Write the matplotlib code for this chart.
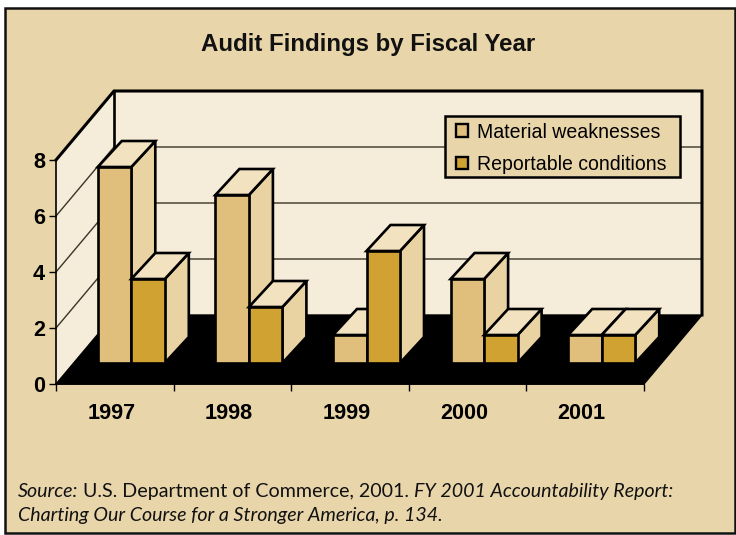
import matplotlib
matplotlib.use("Agg")
from matplotlib import pyplot as plt
from matplotlib.patches import Patch, Polygon, Rectangle

years = ["1997", "1998", "1999", "2000", "2001"]
material = [7, 6, 1, 3, 1]
reportable = [3, 2, 4, 1, 1]
y_ticks = [0, 2, 4, 6, 8]

BG = "#E9D5AA"
WALL = "#F5ECD9"
MAT = "#E0BE7B"
REP = "#CFA232"
TOP = "#F2E2C0"
SIDE = "#E9D3A3"

# one x unit is 117.6 px, one y unit is 28 px
XU, YU = 117.6, 28.0
WALL_DX, WALL_DY = 58 / XU, 69 / YU    # depth of the floor
BAR_DX, BAR_DY = 24 / XU, 26 / YU      # depth of a bar
IN_DX, IN_DY = 16.5 / XU, 21 / YU      # bars sit inside the floor
BAR_W = 33.5 / XU

fig = plt.figure(figsize=(7.36, 5.35), dpi=100, facecolor="white")
W, H = 736.0, 535.0
fig.add_artist(Rectangle((5 / W, 1 - 533 / H), 729.5 / W, 525 / H, transform=fig.transFigure,
                         facecolor=BG, edgecolor="#111111", linewidth=1.8, zorder=-1))

ax = fig.add_axes([56 / W, 1 - 384 / H, 588 / W, 224 / H])
ax.set_xlim(0, 5)
ax.set_ylim(0, 8)
ax.patch.set_visible(False)
for s in ["top", "right"]:
    ax.spines[s].set_visible(False)
ax.spines["left"].set_linewidth(1.2)
ax.spines["bottom"].set_linewidth(1.2)
ax.spines["left"].set_zorder(6)
ax.spines["bottom"].set_zorder(6)


def poly(pts, fc, ec="black", lw=1.9, z=3):
    ax.add_patch(Polygon(pts, closed=True, facecolor=fc, edgecolor=ec, linewidth=lw,
                         joinstyle="miter", clip_on=False, zorder=z))


# walls and floor
poly([(0, 0), (WALL_DX, WALL_DY), (WALL_DX, 8 + WALL_DY), (0, 8)], WALL, ec="none", z=1)
poly([(WALL_DX, WALL_DY), (5 + WALL_DX, WALL_DY), (5 + WALL_DX, 8 + WALL_DY), (WALL_DX, 8 + WALL_DY)],
     WALL, ec="none", z=1)
poly([(0, 0), (5, 0), (5 + WALL_DX, WALL_DY), (WALL_DX, WALL_DY)], "black", ec="black", lw=1, z=2)

# gridlines run along the left wall and across the back
for v in y_ticks[1:-1]:
    ax.plot([0, WALL_DX, 5 + WALL_DX], [v, v + WALL_DY, v + WALL_DY], color="#3a3528", lw=1.0,
            clip_on=False, zorder=1.5)

# wall outline
ax.plot([0, WALL_DX, 5 + WALL_DX, 5 + WALL_DX], [8, 8 + WALL_DY, 8 + WALL_DY, WALL_DY],
        color="black", lw=2.2, clip_on=False, zorder=2.5, solid_joinstyle="miter")
ax.plot([WALL_DX, WALL_DX], [WALL_DY, 8 + WALL_DY], color="black", lw=1.9, clip_on=False, zorder=2.5)


def bar3d(x0, h, front, z):
    x = x0 + IN_DX
    b = IN_DY
    t = b + h
    poly([(x + BAR_W, b), (x + BAR_W + BAR_DX, b + BAR_DY), (x + BAR_W + BAR_DX, t + BAR_DY), (x + BAR_W, t)],
         SIDE, z=z)
    poly([(x, t), (x + BAR_DX, t + BAR_DY), (x + BAR_W + BAR_DX, t + BAR_DY), (x + BAR_W, t)], TOP, z=z)
    poly([(x, b), (x + BAR_W, b), (x + BAR_W, t), (x, t)], front, z=z)


for i in range(len(years)):
    c = i + 0.5
    bar3d(c - BAR_W, material[i], MAT, 3 + i * 0.1)
    bar3d(c, reportable[i], REP, 3.05 + i * 0.1)

ax.set_yticks(y_ticks)
ax.set_xticks(range(len(years) + 1))
ax.set_xticklabels([])
ax.set_xticks([i + 0.47 for i in range(len(years))], labels=years, minor=True)
ax.tick_params(axis="x", which="major", length=5, width=1.0)
ax.tick_params(axis="x", which="minor", length=0, pad=14)
ax.tick_params(axis="y", length=5, width=1.0, pad=3)
for t in ax.get_xticklabels(minor=True) + ax.get_yticklabels():
    t.set_fontfamily("Liberation Sans")
    t.set_fontweight("bold")
    t.set_fontsize(15.6)

fig.text(368 / W, 1 - 44 / H, "Audit Findings by Fiscal Year", family="Liberation Sans", weight="bold",
         fontsize=17.3, ha="center", va="center", color="#111111")

# legend box is a separate rectangle so its padding can be set exactly
fig.add_artist(Rectangle((445 / W, 1 - 177 / H), 235 / W, 61 / H, transform=fig.transFigure,
                         facecolor=BG, edgecolor="black", linewidth=1.8, zorder=9))
handles = [Patch(facecolor=MAT, edgecolor="black", linewidth=1.7, label="Material weaknesses"),
           Patch(facecolor=REP, edgecolor="black", linewidth=1.7, label="Reportable conditions")]
leg = fig.legend(handles=handles, loc="upper left", bbox_to_anchor=(456 / W, 1 - 122.5 / H),
                 borderaxespad=0, frameon=False, prop={"family": "Liberation Sans", "size": 14.05},
                 handlelength=0.6, handleheight=0.6, handletextpad=0.5, labelspacing=0.7, borderpad=0)
leg.set_zorder(10)

# source note, mixed roman and italic on one line
fig.canvas.draw()
renderer = fig.canvas.get_renderer()
x = 18.0
parts = [("Source:", "italic"), (" U.S. Department of Commerce, 2001. ", "normal"),
         ("FY 2001 Accountability Report:", "italic")]
for s, style in parts:
    t = fig.text(x / W, 1 - 497 / H, s.replace(" ", "\u00a0"), family="Lato", style=style, fontsize=14.1, va="baseline",
                 color="#111111")
    x += t.get_window_extent(renderer).width
fig.text(18 / W, 1 - 521 / H, "Charting Our Course for a Stronger America, p. 134.", family="Lato", style="italic",
         fontsize=14.1, va="baseline", color="#111111")

fig.savefig("out.png", dpi=100)
